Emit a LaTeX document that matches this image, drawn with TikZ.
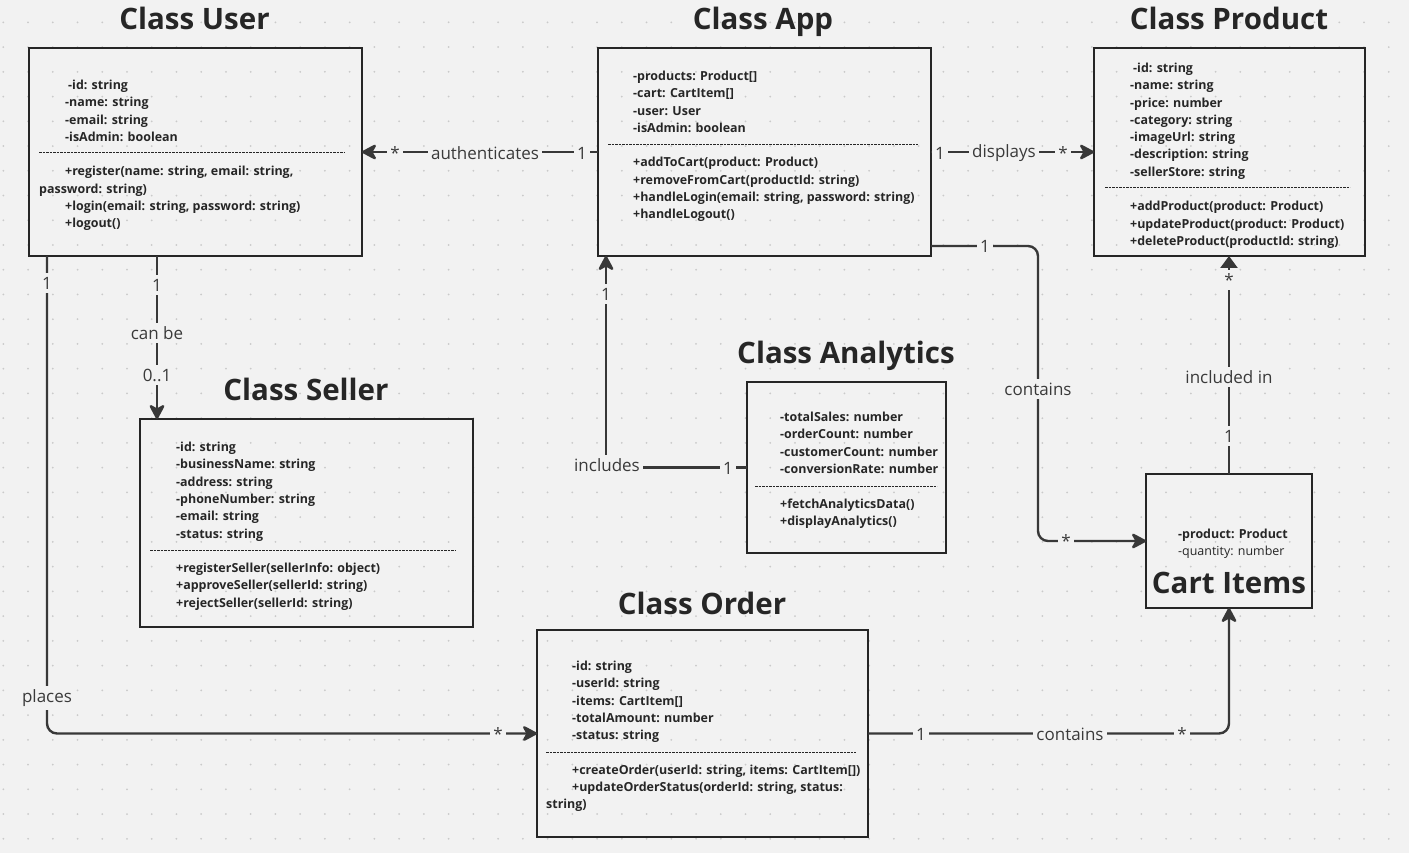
\documentclass[tikz,border=0pt]{standalone}
\usepackage{fontspec}
\setmainfont{Open Sans}
\usetikzlibrary{arrows.meta,calc}
\definecolor{bg}{HTML}{F2F2F2}
\definecolor{dotc}{HTML}{CACACA}
\definecolor{ink}{HTML}{262626}
\definecolor{wire}{HTML}{383838}
\definecolor{lbltxt}{HTML}{3A3A3A}
\newcommand\clsrows[1]{\begin{tabular}[t]{@{}l@{}}#1\end{tabular}}
\newcommand\ind{\hspace*{26pt}}
\begin{document}
\begin{tikzpicture}[x=1pt,y=-1pt,
  box/.style={draw=ink, line width=2.4pt, inner sep=0pt, outer sep=0pt, anchor=north west, rectangle},
  title/.style={font=\fontsize{29.5}{32}\selectfont\bfseries, text=ink, anchor=base, inner sep=0pt},
  body/.style={font=\fontsize{12.45}{17.3}\selectfont\bfseries, text=ink, anchor=base west, inner sep=0pt},
  lbl/.style={font=\fontsize{17}{20}\selectfont, text=lbltxt, fill=bg, inner sep=3.5pt},
  conn/.style={draw=wire, line width=2.4pt, -{Stealth[length=17pt,width=18pt,inset=5pt,round]}},
  sepline/.style={draw=ink, line width=1pt, dash pattern=on 2.8pt off 0.7pt}]
\useasboundingbox (0,0) rectangle (1409,853);
\fill[bg] (0,0) rectangle (1409,853);
\foreach \i in {0,...,56} {\foreach \j in {0,...,35} {\fill[dotc] (3.3+24.74*\i,-2.4+24.74*\j) circle (1pt);}}

% titles
\node (tuser) [title] at (194.5,30) {Class User};
\node (tapp) [title] at (763,30) {Class App};
\node (tproduct) [title] at (1229,30) {Class Product};
\node (tseller) [title] at (306,400.5) {Class Seller};
\node (tanalytics) [title] at (846,363) {Class Analytics};
\node (torder) [title] at (702,614) {Class Order};

% boxes
\node (user) [box, minimum width=333pt, minimum height=208pt] at (29,48) {};
\node (app) [box, minimum width=333pt, minimum height=208pt] at (598,48) {};
\node (product) [box, minimum width=271pt, minimum height=208pt] at (1094,48) {};
\node (seller) [box, minimum width=333pt, minimum height=208pt] at (140,419) {};
\node (analytics) [box, minimum width=199pt, minimum height=171pt] at (747,382) {};
\node (cart) [box, minimum width=166pt, minimum height=134pt] at (1146,474) {};
\node (order) [box, minimum width=331pt, minimum height=207pt] at (537,630) {};

% separators
\draw[sepline] (39,153) -- (345,153);
\draw[sepline] (608,145) -- (918,145);
\draw[sepline] (1105,188) -- (1350,188);
\draw[sepline] (150,550) -- (456,550);
\draw[sepline] (755,486) -- (937,486);
\draw[sepline] (546,752) -- (856,752);

% box texts
\node (usertext) [body] at (39,89.5) {\clsrows{\hspace*{29pt}-id: string\\ \ind -name: string\\ \ind -email: string\\ \ind -isAdmin: boolean\\ \\ \ind +register(name: string, email: string,\\ password: string)\\ \ind +login(email: string, password: string)\\ \ind +logout()}};
\node (apptext) [body] at (633,80.5) {\clsrows{-products: Product[]\\ -cart: CartItem[]\\ -user: User\\ -isAdmin: boolean\\ \\ +addToCart(product: Product)\\ +removeFromCart(productId: string)\\ +handleLogin(email: string, password: string)\\ +handleLogout()}};
\node (producttext) [body] at (1130,72.5) {\clsrows{\hspace*{3pt}-id: string\\ -name: string\\ -price: number\\ -category: string\\ -imageUrl: string\\ -description: string\\ -sellerStore: string\\ \\ +addProduct(product: Product)\\ +updateProduct(product: Product)\\ +deleteProduct(productId: string)}};
\node (sellertext) [body] at (176,451.5) {\clsrows{-id: string\\ -businessName: string\\ -address: string\\ -phoneNumber: string\\ -email: string\\ -status: string\\ \\ +registerSeller(sellerInfo: object)\\ +approveSeller(sellerId: string)\\ +rejectSeller(sellerId: string)}};
\node (analyticstext) [body] at (780,421.5) {\clsrows{-totalSales: number\\ -orderCount: number\\ -customerCount: number\\ -conversionRate: number\\ \\ +fetchAnalyticsData()\\ +displayAnalytics()}};
\node (ordertext) [body] at (546,670.5) {\clsrows{\ind -id: string\\ \ind -userId: string\\ \ind -items: CartItem[]\\ \ind -totalAmount: number\\ \ind -status: string\\ \\ \ind +createOrder(userId: string, items: CartItem[])\\ \ind +updateOrderStatus(orderId: string, status:\\ string)}};
\node (carttext) [body] at (1178,538) {\clsrows{-product: Product\\ \mdseries -quantity: number}};
\node (carttitle) [title] at (1229,593) {Cart Items};

% connectors
\coordinate (cbend) at (1038,246);
\draw[conn] (app.west) -- (user.east);
\draw[conn] (app.east) -- (product.west);
\draw[conn] ([xshift=128pt]user.south west) -- ([xshift=17pt]seller.north west);
\draw[conn, rounded corners=10pt] ([xshift=18pt]user.south west) |- (order.west);
\draw[conn] (analytics.west) -| ([xshift=8pt]app.south west);
\draw[conn, rounded corners=10pt] ([yshift=10pt]app.south east) -- (cbend) |- (cart.west);
\draw[draw=wire, line width=2.4pt, -{Triangle[length=12pt,width=17pt]}] (cart.north) -- (cart.north |- product.south);
\draw[conn, rounded corners=10pt] (order.east) -| (cart.south);

% labels
\node (l1) [lbl] at (395,153) {*};
\node (l2) [lbl] at (485,153) {authenticates};
\node (l3) [lbl] at (582,153) {1};
\node (l4) [lbl] at (940,153) {1};
\node (l5) [lbl] at (1004,153) {displays};
\node (l6) [lbl] at (1063,153) {*};
\node (l7) [lbl] at (157,285) {1};
\node (l8) [lbl] at (157,333) {can be};
\node (l9) [lbl] at (157,375) {0..1};
\node (l10) [lbl] at (47,283) {1};
\node (l11) [lbl] at (47,698) {places};
\node (l12) [lbl] at (498,734) {*};
\node (l13) [lbl] at (606,294) {1};
\node (l14) [lbl] at (607,465) {includes};
\node (l15) [lbl] at (728,468) {1};
\node (l16) [lbl] at (985,246) {1};
\node (l17) [lbl] at (1038,389) {contains};
\node (l18) [lbl] at (1066,541) {*};
\node (l19) [lbl] at (1229,280) {*};
\node (l20) [lbl] at (1229,377) {included in};
\node (l21) [lbl] at (1229,436) {1};
\node (l22) [lbl] at (921,734) {1};
\node (l23) [lbl] at (1070,734) {contains};
\node (l24) [lbl] at (1182,734) {*};
\end{tikzpicture}
\end{document}
